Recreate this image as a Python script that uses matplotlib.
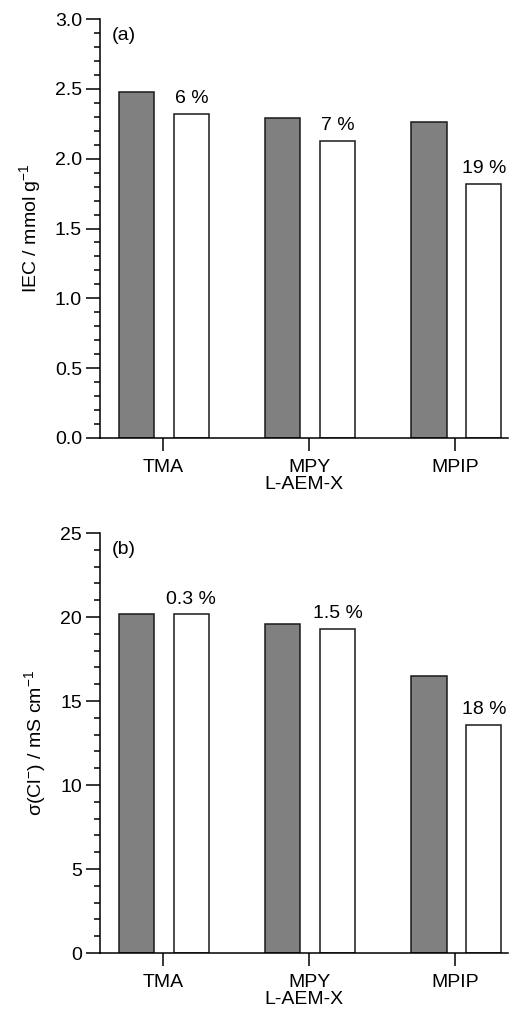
import matplotlib.pyplot as plt
from matplotlib.ticker import MultipleLocator

plt.rcParams['font.family'] = ['Liberation Sans', 'DejaVu Sans']

CATEGORIES = ['TMA', 'MPY', 'MPIP']
IEC_BEFORE = [2.48, 2.29, 2.26]
IEC_AFTER = [2.32, 2.125, 1.82]
IEC_LOSS = ['6 %', '7 %', '19 %']
COND_BEFORE = [20.2, 19.58, 16.5]
COND_AFTER = [20.15, 19.28, 13.55]
COND_LOSS = ['0.3 %', '1.5 %', '18 %']

W, H = 510, 1009
FS = 14
fig = plt.figure(figsize=(W / 100, H / 100), dpi=100)


def bar_panel(rect, before, after, losses, ymax, major, minor, ylabel, tag, fmt):
    ax = fig.add_axes(rect)
    x = range(len(CATEGORIES))
    xb = [i - 0.18 for i in x]
    xa = [i + 0.195 for i in x]
    ax.bar(xb, before, width=0.24, color='#808080', edgecolor='#1a1a1a', linewidth=1.1)
    ax.bar(xa, after, width=0.24, color='white', edgecolor='#1a1a1a', linewidth=1.1)
    # percentage loss above the white bars
    for xi, yi, txt in zip(xa, after, losses):
        ax.annotate(txt, (xi, yi), xytext=(0, 5), textcoords='offset points',
                    ha='center', va='bottom', fontsize=FS)
    ax.set_xlim(-0.43, 2.36)
    ax.set_ylim(0, ymax)
    ax.set_xticks(list(x))
    ax.set_xticklabels(CATEGORIES, fontsize=FS)
    ax.yaxis.set_major_locator(MultipleLocator(major))
    ax.yaxis.set_minor_locator(MultipleLocator(minor))
    ax.yaxis.set_major_formatter(fmt)
    ax.tick_params(axis='y', labelsize=FS, width=1.1, length=10, pad=3, direction='out')
    ax.tick_params(axis='y', which='minor', width=1.1, length=4.5)
    ax.tick_params(axis='x', width=1.1, length=9, pad=6)
    for s in ['top', 'right']:
        ax.spines[s].set_visible(False)
    for s in ['left', 'bottom']:
        ax.spines[s].set_linewidth(1.1)
    ax.set_ylabel(ylabel, fontsize=FS, labelpad=8)
    ax.set_xlabel('L-AEM-X', fontsize=FS, labelpad=0)
    ax.text(0.03, 0.98, tag, transform=ax.transAxes, ha='left', va='top', fontsize=FS)
    return ax


left = 100 / W
width = 408 / W
bar_panel([left, 1 - 438 / H, width, 419 / H], IEC_BEFORE, IEC_AFTER, IEC_LOSS,
          3.0, 0.5, 0.1, 'IEC / mmol g$^{\\mathregular{-1}}$', '(a)', '{x:.1f}')
bar_panel([left, 1 - 953 / H, width, 420 / H], COND_BEFORE, COND_AFTER, COND_LOSS,
          25, 5, 1, 'σ(Cl$^{\\mathregular{-}}$) / mS cm$^{\\mathregular{-1}}$', '(b)', '{x:.0f}')

fig.savefig('out.png', dpi=100)
